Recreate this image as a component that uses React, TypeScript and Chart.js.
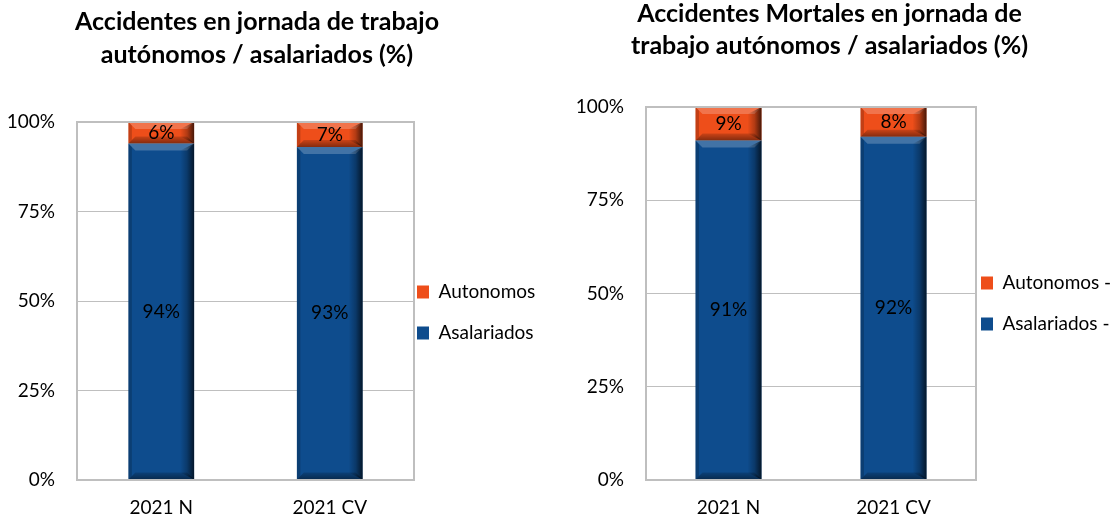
import React, { useEffect, useRef } from 'react';
import { Chart, registerables } from 'chart.js';

Chart.register(...registerables);

// ---------- data ----------
const categories = ['2021 N', '2021 CV'];

const leftTitle = ['Accidentes en jornada de trabajo', 'autónomos / asalariados (%)'];
const leftAutonomos = [6, 7];
const leftAsalariados = [94, 93];
const leftSeriesNames = ['Autonomos', 'Asalariados'];

const rightTitle = ['Accidentes Mortales en jornada de', 'trabajo autónomos / asalariados (%)'];
const rightAutonomos = [9, 8];
const rightAsalariados = [91, 92];
const rightSeriesNames = ['Autonomos -', 'Asalariados -'];

const yTickValues = [0, 25, 50, 75, 100];

// ---------- styles ----------
const FONT = 'Lato, "Open Sans", sans-serif';
const ORANGE = '#EE4E1A';
const BLUE = '#0E4C8D';
const GRID = '#BFBFBF';

type PanelCfg = {
  left: number;
  top: number;
  width: number;
  height: number;
  title: string[];
  titleLH: number;
  titlePadTop: number;
  titlePadBottom: number;
  autonomos: number[];
  asalariados: number[];
  names: string[];
  yWidth: number;
  legendWidth: number;
  legendShiftX: number;
  legendShiftY: number;
  barPct: number;
};

const bevelPlugin = {
  id: 'bevel',
  afterDatasetsDraw(chart: any) {
    const ctx = chart.ctx;
    chart.data.datasets.forEach((_ds: any, di: number) => {
      const meta = chart.getDatasetMeta(di);
      if (meta.hidden) return;
      meta.data.forEach((el: any) => {
        const p = el.getProps(['x', 'y', 'base', 'width'], true);
        const L = p.x - p.width / 2;
        const R = p.x + p.width / 2;
        const T = Math.min(p.y, p.base);
        const B = Math.max(p.y, p.base);
        const h = B - T;
        const b = Math.min(7, h / 3);
        const poly = (pts: number[][], fill: any) => {
          ctx.beginPath();
          ctx.moveTo(pts[0][0], pts[0][1]);
          for (let i = 1; i < pts.length; i++) ctx.lineTo(pts[i][0], pts[i][1]);
          ctx.closePath();
          ctx.fillStyle = fill;
          ctx.fill();
        };
        ctx.save();
        poly([[L, T], [R, T], [R - b, T + b], [L + b, T + b]], 'rgba(255,255,255,0.22)');
        const gb = ctx.createLinearGradient(0, B - b, 0, B);
        gb.addColorStop(0, 'rgba(0,0,0,0.15)');
        gb.addColorStop(1, 'rgba(0,0,0,0.45)');
        poly([[L, B], [R, B], [R - b, B - b], [L + b, B - b]], gb);
        poly([[L, T], [L + b * 0.5, T + b * 0.5], [L + b * 0.5, B - b * 0.5], [L, B]], 'rgba(0,0,0,0.18)');
        const gr = ctx.createLinearGradient(R - 2 * b, 0, R, 0);
        gr.addColorStop(0, 'rgba(0,0,0,0)');
        gr.addColorStop(0.5, 'rgba(0,0,0,0.25)');
        gr.addColorStop(1, 'rgba(0,0,0,0.7)');
        poly([[R, T], [R - 2 * b, T + b], [R - 2 * b, B - b], [R, B]], gr);
        ctx.restore();
      });
    });
  },
};

const labelPlugin = {
  id: 'barLabels',
  afterDatasetsDraw(chart: any) {
    const ctx = chart.ctx;
    ctx.save();
    ctx.font = `19px ${FONT}`;
    ctx.fillStyle = '#000';
    ctx.textAlign = 'center';
    ctx.textBaseline = 'middle';
    chart.data.datasets.forEach((ds: any, di: number) => {
      const meta = chart.getDatasetMeta(di);
      meta.data.forEach((el: any, i: number) => {
        const p = el.getProps(['x', 'y', 'base'], true);
        ctx.fillText(`${ds.data[i]}%`, p.x, (p.y + p.base) / 2);
      });
    });
    ctx.restore();
  },
};

const framePlugin = {
  id: 'frame',
  afterDatasetsDraw(chart: any) {
    const { ctx, chartArea: a } = chart;
    ctx.save();
    ctx.strokeStyle = GRID;
    ctx.lineWidth = 2;
    ctx.strokeRect(a.left, a.top, a.right - a.left, a.bottom - a.top);
    ctx.restore();
  },
};

const legendTweak = {
  id: 'legendTweak',
  beforeLayout(chart: any, _args: any, opts: any) {
    const lg: any = chart.legend;
    if (!lg || lg.__patched) return;
    lg.__patched = true;
    const fit = lg.fit.bind(lg);
    lg.fit = function () {
      fit();
      lg.width = opts.width;
    };
    const draw = lg.draw.bind(lg);
    lg.draw = function (...args: any[]) {
      const l = lg.left, t = lg.top, b = lg.bottom;
      lg.left = l + opts.shiftX;
      lg.top = t + opts.shiftY;
      lg.bottom = b + opts.shiftY;
      draw(...args);
      lg.left = l;
      lg.top = t;
      lg.bottom = b;
    };
  },
};

function Panel({ cfg }: { cfg: PanelCfg }) {
  const ref = useRef<HTMLCanvasElement>(null);
  useEffect(() => {
    if (!ref.current) return;
    const chart = new Chart(ref.current, {
      type: 'bar',
      data: {
        labels: categories,
        datasets: [
          {
            label: cfg.names[1],
            data: cfg.asalariados,
            backgroundColor: BLUE,
            borderWidth: 0,
            barPercentage: cfg.barPct,
            categoryPercentage: 1,
          },
          {
            label: cfg.names[0],
            data: cfg.autonomos,
            backgroundColor: ORANGE,
            borderWidth: 0,
            barPercentage: cfg.barPct,
            categoryPercentage: 1,
          },
        ],
      },
      options: {
        responsive: false,
        animation: false,
        devicePixelRatio: 1,
        layout: { padding: 0 },
        scales: {
          x: {
            stacked: true,
            grid: { display: false, drawTicks: false },
            border: { display: true, color: GRID, width: 2 },
            ticks: { color: '#000', font: { family: FONT, size: 19 }, padding: 16 },
            afterFit: (s: any) => {
              s.height = 39;
            },
          },
          y: {
            stacked: true,
            min: 0,
            max: 100,
            afterBuildTicks: (s: any) => {
              s.ticks = yTickValues.map((v) => ({ value: v }));
            },
            grid: { color: GRID, lineWidth: 1, drawTicks: false },
            border: { display: true, color: GRID, width: 2 },
            ticks: {
              color: '#000',
              font: { family: FONT, size: 19 },
              padding: 22,
              callback: (v: any) => `${v}%`,
            },
            afterFit: (s: any) => {
              s.width = cfg.yWidth;
            },
          },
        },
        plugins: {
          title: {
            display: true,
            text: cfg.title,
            color: '#000',
            font: { family: FONT, size: 25, weight: 'bold', lineHeight: `${cfg.titleLH}px` },
            padding: { top: cfg.titlePadTop, bottom: cfg.titlePadBottom },
          },
          legend: {
            display: true,
            position: 'right',
            reverse: true,
            labels: {
              color: '#000',
              font: { family: FONT, size: 19 },
              boxWidth: 12,
              boxHeight: 13,
              padding: 22,
            },
          },
          tooltip: { enabled: false },
          legendTweak: {
            width: cfg.legendWidth,
            shiftX: cfg.legendShiftX,
            shiftY: cfg.legendShiftY,
          },
        } as any,
      },
      plugins: [legendTweak, bevelPlugin, framePlugin, labelPlugin],
    });
    return () => chart.destroy();
  }, [cfg]);
  return (
    <canvas
      ref={ref}
      width={cfg.width}
      height={cfg.height}
      style={{
        position: 'absolute',
        left: cfg.left,
        top: cfg.top,
        width: cfg.width,
        height: cfg.height,
      }}
    />
  );
}

const leftCfg: PanelCfg = {
  left: -22,
  top: 0,
  width: 558,
  height: 519,
  title: leftTitle,
  titleLH: 33,
  titlePadTop: 5.5,
  titlePadBottom: 50.5,
  autonomos: leftAutonomos,
  asalariados: leftAsalariados,
  names: leftSeriesNames,
  yWidth: 99,
  legendWidth: 122,
  legendShiftX: -19,
  legendShiftY: 53,
  barPct: 0.39,
};

const rightCfg: PanelCfg = {
  left: 548,
  top: -4,
  width: 563,
  height: 523,
  title: rightTitle,
  titleLH: 32,
  titlePadTop: 2,
  titlePadBottom: 45,
  autonomos: rightAutonomos,
  asalariados: rightAsalariados,
  names: rightSeriesNames,
  yWidth: 98,
  legendWidth: 135,
  legendShiftX: -17,
  legendShiftY: 46,
  barPct: 0.4,
};

export default function App() {
  return (
    <div
      style={{
        position: 'absolute',
        left: 0,
        top: 0,
        width: 1112,
        height: 519,
        overflow: 'hidden',
        background: '#fff',
      }}
    >
      <Panel cfg={leftCfg} />
      <Panel cfg={rightCfg} />
    </div>
  );
}
